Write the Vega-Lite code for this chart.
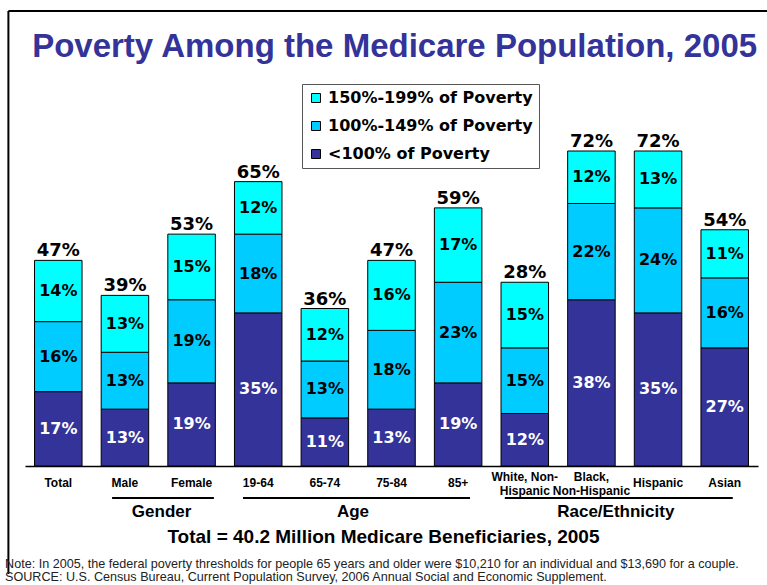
{
  "$schema": "https://vega.github.io/schema/vega-lite/v6.json",
  "width": 733,
  "height": 350,
  "autosize": {"type": "none"},
  "padding": {"left": 25, "top": 116, "right": 9, "bottom": 119},
  "background": "white",
  "config": {
    "view": {"stroke": null},
    "axisY": {"disable": true},
    "axisX": {
      "domainColor": "black", "domainWidth": 1.5, "ticks": false, "tickSize": 0, "grid": false,
      "labelBaseline": "middle", "labelAngle": 0,
      "labelFont": "Liberation Sans", "labelFontWeight": "bold", "labelFontSize": 12, "labelColor": "black",
      "labelLineHeight": 14, "labelOverlap": false, "labelLimit": 200, "titleOpacity": 0
    }
  },
  "datasets": {
    "poverty": [
      {"category": "Total", "level": "<100% of Poverty", "rank": 1, "value": 0.17, "total": "47%"},
      {"category": "Total", "level": "100%-149% of Poverty", "rank": 2, "value": 0.16, "total": "47%"},
      {"category": "Total", "level": "150%-199% of Poverty", "rank": 3, "value": 0.14, "total": "47%"},
      {"category": "Male", "level": "<100% of Poverty", "rank": 1, "value": 0.13, "total": "39%"},
      {"category": "Male", "level": "100%-149% of Poverty", "rank": 2, "value": 0.13, "total": "39%"},
      {"category": "Male", "level": "150%-199% of Poverty", "rank": 3, "value": 0.13, "total": "39%"},
      {"category": "Female", "level": "<100% of Poverty", "rank": 1, "value": 0.19, "total": "53%"},
      {"category": "Female", "level": "100%-149% of Poverty", "rank": 2, "value": 0.19, "total": "53%"},
      {"category": "Female", "level": "150%-199% of Poverty", "rank": 3, "value": 0.15, "total": "53%"},
      {"category": "19-64", "level": "<100% of Poverty", "rank": 1, "value": 0.35, "total": "65%"},
      {"category": "19-64", "level": "100%-149% of Poverty", "rank": 2, "value": 0.18, "total": "65%"},
      {"category": "19-64", "level": "150%-199% of Poverty", "rank": 3, "value": 0.12, "total": "65%"},
      {"category": "65-74", "level": "<100% of Poverty", "rank": 1, "value": 0.11, "total": "36%"},
      {"category": "65-74", "level": "100%-149% of Poverty", "rank": 2, "value": 0.13, "total": "36%"},
      {"category": "65-74", "level": "150%-199% of Poverty", "rank": 3, "value": 0.12, "total": "36%"},
      {"category": "75-84", "level": "<100% of Poverty", "rank": 1, "value": 0.13, "total": "47%"},
      {"category": "75-84", "level": "100%-149% of Poverty", "rank": 2, "value": 0.18, "total": "47%"},
      {"category": "75-84", "level": "150%-199% of Poverty", "rank": 3, "value": 0.16, "total": "47%"},
      {"category": "85+", "level": "<100% of Poverty", "rank": 1, "value": 0.19, "total": "59%"},
      {"category": "85+", "level": "100%-149% of Poverty", "rank": 2, "value": 0.23, "total": "59%"},
      {"category": "85+", "level": "150%-199% of Poverty", "rank": 3, "value": 0.17, "total": "59%"},
      {"category": "White, Non-Hispanic", "level": "<100% of Poverty", "rank": 1, "value": 0.12, "total": "28%"},
      {"category": "White, Non-Hispanic", "level": "100%-149% of Poverty", "rank": 2, "value": 0.15, "total": "28%"},
      {"category": "White, Non-Hispanic", "level": "150%-199% of Poverty", "rank": 3, "value": 0.15, "total": "28%"},
      {"category": "Black, Non-Hispanic", "level": "<100% of Poverty", "rank": 1, "value": 0.38, "total": "72%"},
      {"category": "Black, Non-Hispanic", "level": "100%-149% of Poverty", "rank": 2, "value": 0.22, "total": "72%"},
      {"category": "Black, Non-Hispanic", "level": "150%-199% of Poverty", "rank": 3, "value": 0.12, "total": "72%"},
      {"category": "Hispanic", "level": "<100% of Poverty", "rank": 1, "value": 0.35, "total": "72%"},
      {"category": "Hispanic", "level": "100%-149% of Poverty", "rank": 2, "value": 0.24, "total": "72%"},
      {"category": "Hispanic", "level": "150%-199% of Poverty", "rank": 3, "value": 0.13, "total": "72%"},
      {"category": "Asian", "level": "<100% of Poverty", "rank": 1, "value": 0.27, "total": "54%"},
      {"category": "Asian", "level": "100%-149% of Poverty", "rank": 2, "value": 0.16, "total": "54%"},
      {"category": "Asian", "level": "150%-199% of Poverty", "rank": 3, "value": 0.11, "total": "54%"}
    ],
    "groups": [
      {"group": "Gender", "first": "Male", "last": "Female"},
      {"group": "Age", "first": "19-64", "last": "85+"},
      {"group": "Race/Ethnicity", "first": "White, Non-Hispanic", "last": "Asian"}
    ],
    "texts": [
      {"role": "title", "text": "Poverty Among the Medicare Population, 2005"},
      {"role": "subtitle", "text": "Total = 40.2 Million Medicare Beneficiaries, 2005"},
      {"role": "note", "text": "Note: In 2005, the federal poverty thresholds for people 65 years and older were $10,210 for an individual and $13,690 for a couple."},
      {"role": "source", "text": "SOURCE: U.S. Census Bureau, Current Population Survey, 2006 Annual Social and Economic Supplement."}
    ]
  },
  "layer": [
    {
      "data": {"name": "poverty"},
      "transform": [
        {"stack": "value", "groupby": ["category"], "sort": [{"field": "rank", "order": "ascending"}], "as": ["v0", "v1"]}
      ],
      "mark": {"type": "bar", "stroke": "black", "strokeWidth": 1},
      "encoding": {
        "x": {
          "field": "category", "type": "nominal", "sort": null, "title": null,
          "scale": {"domain": ["Total", "Male", "Female", "19-64", "65-74", "75-84", "85+", "White, Non-Hispanic", "Black, Non-Hispanic", "Hispanic", "Asian"], "paddingInner": 0.287, "paddingOuter": 0.143},
          "axis": {
            "title": null,
            "labelPadding": {"condition": {"test": "indexof(datum.value, 'Non-Hispanic') >= 0", "value": 10}, "value": 16},
            "labelExpr": "datum.value == 'White, Non-Hispanic' ? ['White, Non-', 'Hispanic'] : (datum.value == 'Black, Non-Hispanic' ? ['Black,', 'Non-Hispanic'] : datum.value)"
          }
        },
        "y": {"field": "v0", "type": "quantitative", "scale": {"domain": [0, 0.8], "nice": false, "zero": false}},
        "y2": {"field": "v1"},
        "color": {
          "field": "level", "type": "nominal",
          "scale": {"domain": ["150%-199% of Poverty", "100%-149% of Poverty", "<100% of Poverty"], "range": ["#00FFFF", "#00CCFF", "#333399"]},
          "legend": {
            "orient": "none", "legendX": 277, "legendY": -32, "title": null, "direction": "vertical",
            "symbolType": "square", "symbolSize": 81, "symbolStrokeColor": "black", "symbolStrokeWidth": 1,
            "labelFont": "DejaVu Sans", "labelFontSize": 16, "labelFontWeight": "bold", "labelColor": "black",
            "labelOffset": 4, "rowPadding": 12, "padding": 6, "strokeColor": "#555555", "fillColor": "white", "labelLimit": 300
          }
        }
      }
    },
    {
      "data": {"name": "poverty"},
      "transform": [
        {"stack": "value", "groupby": ["category"], "sort": [{"field": "rank", "order": "ascending"}], "as": ["v0", "v1"]},
        {"calculate": "(datum.v0 + datum.v1) / 2", "as": "mid"}
      ],
      "mark": {"type": "text", "font": "DejaVu Sans", "fontWeight": "bold", "fontSize": 16, "baseline": "middle", "align": "center"},
      "encoding": {
        "x": {"field": "category", "type": "nominal", "sort": null, "title": null, "scale": {"domain": ["Total", "Male", "Female", "19-64", "65-74", "75-84", "85+", "White, Non-Hispanic", "Black, Non-Hispanic", "Hispanic", "Asian"], "paddingInner": 0.287, "paddingOuter": 0.143}},
        "y": {"field": "mid", "type": "quantitative", "scale": {"domain": [0, 0.8], "nice": false, "zero": false}},
        "text": {"field": "value", "type": "quantitative", "format": ".0%"},
        "color": {"condition": {"test": "datum.rank == 1", "value": "white"}, "value": "black"}
      }
    },
    {
      "data": {"name": "poverty"},
      "transform": [
        {"aggregate": [{"op": "sum", "field": "value", "as": "sum"}], "groupby": ["category", "total"]}
      ],
      "mark": {"type": "text", "font": "DejaVu Sans", "fontWeight": "bold", "fontSize": 18, "baseline": "alphabetic", "align": "center", "dy": -4, "color": "black"},
      "encoding": {
        "x": {"field": "category", "type": "nominal", "sort": null, "title": null, "scale": {"domain": ["Total", "Male", "Female", "19-64", "65-74", "75-84", "85+", "White, Non-Hispanic", "Black, Non-Hispanic", "Hispanic", "Asian"], "paddingInner": 0.287, "paddingOuter": 0.143}},
        "y": {"field": "sum", "type": "quantitative", "scale": {"domain": [0, 0.8], "nice": false, "zero": false}},
        "text": {"field": "total", "type": "nominal"}
      }
    },
    {
      "data": {"values": [{"frame": "top"}]},
      "mark": {"type": "rule", "color": "black", "strokeWidth": 2},
      "encoding": {
        "x": {"datum": "Total", "type": "nominal", "bandPosition": -0.55, "scale": {"domain": ["Total", "Male", "Female", "19-64", "65-74", "75-84", "85+", "White, Non-Hispanic", "Black, Non-Hispanic", "Hispanic", "Asian"], "paddingInner": 0.287, "paddingOuter": 0.143}},
        "x2": {"datum": "Asian", "bandPosition": 1.39},
        "y": {"datum": 1.04, "type": "quantitative", "scale": {"domain": [0, 0.8], "nice": false, "zero": false}}
      }
    },
    {
      "data": {"values": [{"frame": "left"}]},
      "mark": {"type": "rule", "color": "black", "strokeWidth": 2},
      "encoding": {
        "x": {"datum": "Total", "type": "nominal", "bandPosition": -0.55, "scale": {"domain": ["Total", "Male", "Female", "19-64", "65-74", "75-84", "85+", "White, Non-Hispanic", "Black, Non-Hispanic", "Hispanic", "Asian"], "paddingInner": 0.287, "paddingOuter": 0.143}},
        "y": {"datum": 1.04, "type": "quantitative", "scale": {"domain": [0, 0.8], "nice": false, "zero": false}},
        "y2": {"datum": -0.247}
      }
    },
    {
      "data": {"name": "groups"},
      "transform": [{"filter": "datum.group == 'Gender'"}],
      "mark": {"type": "rule", "color": "black", "strokeWidth": 2},
      "encoding": {
        "x": {"field": "first", "type": "nominal", "title": null, "bandPosition": 0.23, "scale": {"domain": ["Total", "Male", "Female", "19-64", "65-74", "75-84", "85+", "White, Non-Hispanic", "Black, Non-Hispanic", "Hispanic", "Asian"], "paddingInner": 0.287, "paddingOuter": 0.143}},
        "x2": {"field": "last", "bandPosition": 0.97},
        "y": {"datum": -0.073, "type": "quantitative", "scale": {"domain": [0, 0.8], "nice": false, "zero": false}}
      }
    },
    {
      "data": {"name": "groups"},
      "transform": [{"filter": "datum.group == 'Age'"}],
      "mark": {"type": "rule", "color": "black", "strokeWidth": 2},
      "encoding": {
        "x": {"field": "first", "type": "nominal", "title": null, "bandPosition": 0.18, "scale": {"domain": ["Total", "Male", "Female", "19-64", "65-74", "75-84", "85+", "White, Non-Hispanic", "Black, Non-Hispanic", "Hispanic", "Asian"], "paddingInner": 0.287, "paddingOuter": 0.143}},
        "x2": {"field": "last", "bandPosition": 0.75},
        "y": {"datum": -0.073, "type": "quantitative", "scale": {"domain": [0, 0.8], "nice": false, "zero": false}}
      }
    },
    {
      "data": {"name": "groups"},
      "transform": [{"filter": "datum.group == 'Race/Ethnicity'"}],
      "mark": {"type": "rule", "color": "black", "strokeWidth": 2},
      "encoding": {
        "x": {"field": "first", "type": "nominal", "title": null, "bandPosition": 0.08, "scale": {"domain": ["Total", "Male", "Female", "19-64", "65-74", "75-84", "85+", "White, Non-Hispanic", "Black, Non-Hispanic", "Hispanic", "Asian"], "paddingInner": 0.287, "paddingOuter": 0.143}},
        "x2": {"field": "last", "bandPosition": 0.67},
        "y": {"datum": -0.073, "type": "quantitative", "scale": {"domain": [0, 0.8], "nice": false, "zero": false}}
      }
    },
    {
      "data": {"name": "groups"},
      "transform": [{"filter": "datum.group == 'Gender'"}],
      "mark": {"type": "text", "font": "Liberation Sans", "fontWeight": "bold", "fontSize": 17, "baseline": "middle", "align": "center", "color": "black"},
      "encoding": {
        "x": {"datum": "Female", "type": "nominal", "bandPosition": -0.13, "scale": {"domain": ["Total", "Male", "Female", "19-64", "65-74", "75-84", "85+", "White, Non-Hispanic", "Black, Non-Hispanic", "Hispanic", "Asian"], "paddingInner": 0.287, "paddingOuter": 0.143}},
        "y": {"datum": -0.105, "type": "quantitative", "scale": {"domain": [0, 0.8], "nice": false, "zero": false}},
        "text": {"field": "group", "type": "nominal"}
      }
    },
    {
      "data": {"name": "groups"},
      "transform": [{"filter": "datum.group == 'Age'"}],
      "mark": {"type": "text", "font": "Liberation Sans", "fontWeight": "bold", "fontSize": 17, "baseline": "middle", "align": "center", "color": "black"},
      "encoding": {
        "x": {"datum": "75-84", "type": "nominal", "bandPosition": -0.31, "scale": {"domain": ["Total", "Male", "Female", "19-64", "65-74", "75-84", "85+", "White, Non-Hispanic", "Black, Non-Hispanic", "Hispanic", "Asian"], "paddingInner": 0.287, "paddingOuter": 0.143}},
        "y": {"datum": -0.105, "type": "quantitative", "scale": {"domain": [0, 0.8], "nice": false, "zero": false}},
        "text": {"field": "group", "type": "nominal"}
      }
    },
    {
      "data": {"name": "groups"},
      "transform": [{"filter": "datum.group == 'Race/Ethnicity'"}],
      "mark": {"type": "text", "font": "Liberation Sans", "fontWeight": "bold", "fontSize": 17, "baseline": "middle", "align": "center", "color": "black"},
      "encoding": {
        "x": {"datum": "Hispanic", "type": "nominal", "bandPosition": -0.39, "scale": {"domain": ["Total", "Male", "Female", "19-64", "65-74", "75-84", "85+", "White, Non-Hispanic", "Black, Non-Hispanic", "Hispanic", "Asian"], "paddingInner": 0.287, "paddingOuter": 0.143}},
        "y": {"datum": -0.105, "type": "quantitative", "scale": {"domain": [0, 0.8], "nice": false, "zero": false}},
        "text": {"field": "group", "type": "nominal"}
      }
    },
    {
      "data": {"name": "texts"},
      "transform": [{"filter": "datum.role == 'title'"}],
      "mark": {"type": "text", "font": "Liberation Sans", "fontWeight": "bold", "fontSize": 33, "baseline": "alphabetic", "align": "left", "color": "#333399"},
      "encoding": {
        "x": {"datum": "Total", "type": "nominal", "bandPosition": -0.05, "scale": {"domain": ["Total", "Male", "Female", "19-64", "65-74", "75-84", "85+", "White, Non-Hispanic", "Black, Non-Hispanic", "Hispanic", "Asian"], "paddingInner": 0.287, "paddingOuter": 0.143}},
        "y": {"datum": 0.935, "type": "quantitative", "scale": {"domain": [0, 0.8], "nice": false, "zero": false}},
        "text": {"field": "text", "type": "nominal"}
      }
    },
    {
      "data": {"name": "texts"},
      "transform": [{"filter": "datum.role == 'subtitle'"}],
      "mark": {"type": "text", "font": "Liberation Sans", "fontWeight": "bold", "fontSize": 19, "baseline": "middle", "align": "center", "color": "black"},
      "encoding": {
        "x": {"datum": "75-84", "type": "nominal", "bandPosition": 0.33, "scale": {"domain": ["Total", "Male", "Female", "19-64", "65-74", "75-84", "85+", "White, Non-Hispanic", "Black, Non-Hispanic", "Hispanic", "Asian"], "paddingInner": 0.287, "paddingOuter": 0.143}},
        "y": {"datum": -0.162, "type": "quantitative", "scale": {"domain": [0, 0.8], "nice": false, "zero": false}},
        "text": {"field": "text", "type": "nominal"}
      }
    },
    {
      "data": {"name": "texts"},
      "transform": [{"filter": "datum.role == 'note'"}],
      "mark": {"type": "text", "font": "Liberation Sans", "fontSize": 12.6, "baseline": "middle", "align": "left", "color": "#222222"},
      "encoding": {
        "x": {"datum": "Total", "type": "nominal", "bandPosition": -0.62, "scale": {"domain": ["Total", "Male", "Female", "19-64", "65-74", "75-84", "85+", "White, Non-Hispanic", "Black, Non-Hispanic", "Hispanic", "Asian"], "paddingInner": 0.287, "paddingOuter": 0.143}},
        "y": {"datum": -0.224, "type": "quantitative", "scale": {"domain": [0, 0.8], "nice": false, "zero": false}},
        "text": {"field": "text", "type": "nominal"}
      }
    },
    {
      "data": {"name": "texts"},
      "transform": [{"filter": "datum.role == 'source'"}],
      "mark": {"type": "text", "font": "Liberation Sans", "fontSize": 12.6, "baseline": "middle", "align": "left", "color": "#222222"},
      "encoding": {
        "x": {"datum": "Total", "type": "nominal", "bandPosition": -0.62, "scale": {"domain": ["Total", "Male", "Female", "19-64", "65-74", "75-84", "85+", "White, Non-Hispanic", "Black, Non-Hispanic", "Hispanic", "Asian"], "paddingInner": 0.287, "paddingOuter": 0.143}},
        "y": {"datum": -0.254, "type": "quantitative", "scale": {"domain": [0, 0.8], "nice": false, "zero": false}},
        "text": {"field": "text", "type": "nominal"}
      }
    }
  ]
}
